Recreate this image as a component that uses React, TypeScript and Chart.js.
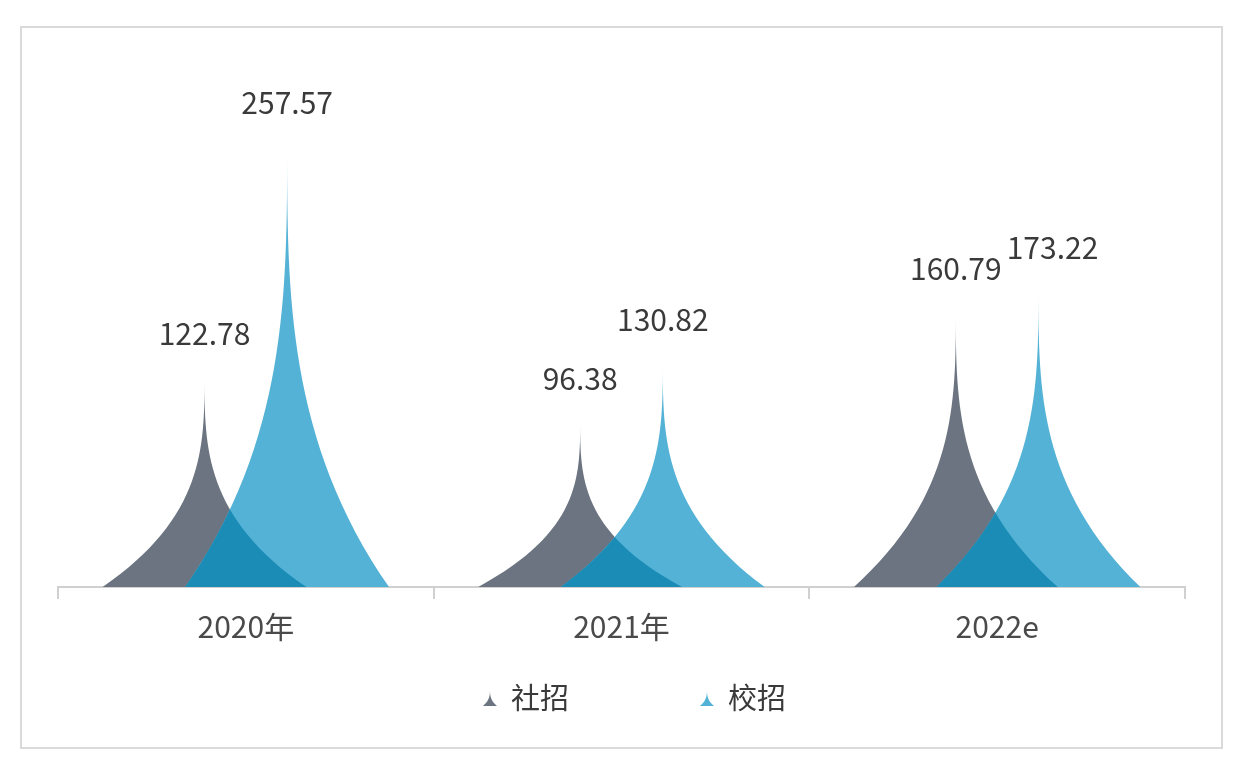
import React, { useEffect, useRef } from "react";
import { Chart, registerables } from "chart.js";

Chart.register(...registerables);

const categories = ["2020年", "2021年", "2022e"];
const socialHires = [122.78, 96.38, 160.79];
const campusHires = [257.57, 130.82, 173.22];
const seriesNames = ["社招", "校招"];

const GRAY = "rgb(107,116,128)";
const BLUE = "rgb(84,178,214)";
const OVERLAP = "rgb(26,140,182)";
const FONT = '"Noto Sans CJK SC", "Noto Sans", sans-serif';

function spikePath(ctx: CanvasRenderingContext2D, cx: number, top: number, base: number, hw: number) {
  const h = base - top;
  ctx.beginPath();
  ctx.moveTo(cx - hw, base);
  ctx.bezierCurveTo(cx, base - h / 3, cx, base - (2 * h) / 3, cx, top);
  ctx.bezierCurveTo(cx, base - (2 * h) / 3, cx, base - h / 3, cx + hw, base);
  ctx.closePath();
}

function barGeom(bar: any) {
  const p = bar.getProps(["x", "y", "base", "width"], true);
  return { x: p.x, y: p.y, base: p.base, hw: p.width * 1.233 };
}

const spikePlugin = {
  id: "spikes",
  afterDatasetsDraw(chart: any) {
    const ctx = chart.ctx as CanvasRenderingContext2D;
    ctx.save();
    const metas = chart.data.datasets.map((_: any, di: number) => chart.getDatasetMeta(di));
    metas.forEach((meta: any, di: number) => {
      ctx.fillStyle = chart.data.datasets[di].spikeColor;
      meta.data.forEach((bar: any) => {
        const g = barGeom(bar);
        spikePath(ctx, g.x, g.y, g.base, g.hw);
        ctx.fill();
      });
    });
    // overlap of 校招 over 社招
    metas[0].data.forEach((grayBar: any) => {
      const g = barGeom(grayBar);
      ctx.save();
      spikePath(ctx, g.x, g.y, g.base, g.hw);
      ctx.clip();
      ctx.fillStyle = OVERLAP;
      metas[1].data.forEach((blueBar: any) => {
        const b = barGeom(blueBar);
        spikePath(ctx, b.x, b.y, b.base, b.hw);
        ctx.fill();
      });
      ctx.restore();
    });
    // data labels (with simple collision nudge)
    ctx.fillStyle = "#3a3a3a";
    ctx.font = `30px ${FONT}`;
    ctx.textAlign = "center";
    ctx.textBaseline = "middle";
    const boxes: { l: number; r: number; t: number; b: number }[] = [];
    metas.forEach((meta: any, di: number) => {
      const ds = chart.data.datasets[di];
      meta.data.forEach((bar: any, i: number) => {
        const p = bar.getProps(["x", "y"], true);
        const text = ds.data[i].toFixed(2);
        const w = ctx.measureText(text).width;
        let x = p.x;
        const y = p.y - 43;
        const hit = boxes.some(
          (bx) => x - w / 2 < bx.r && x + w / 2 > bx.l && y - 14 < bx.b && y + 14 > bx.t
        );
        if (hit) x += 14;
        boxes.push({ l: x - w / 2, r: x + w / 2, t: y - 14, b: y + 14 });
        ctx.fillText(text, x, y);
      });
    });
    ctx.restore();
  },
  afterDraw(chart: any) {
    const ctx = chart.ctx as CanvasRenderingContext2D;
    ctx.save();
    ctx.font = `29px ${FONT}`;
    ctx.textBaseline = "middle";
    ctx.textAlign = "left";
    const y = 698;
    const markerW = 14;
    const gapText = 14;
    const gapItems = 131;
    const colors = [GRAY, BLUE];
    const widths = seriesNames.map((n) => markerW + gapText + ctx.measureText(n).width);
    const total = widths[0] + gapItems + widths[1];
    const cx = (chart.chartArea.left + chart.chartArea.right) / 2 + 13;
    let x = cx - total / 2;
    seriesNames.forEach((n, i) => {
      ctx.fillStyle = colors[i];
      spikePath(ctx, x + markerW / 2, y - 9, y + 8, markerW / 2);
      ctx.fill();
      ctx.fillStyle = "#3a3a3a";
      ctx.fillText(n, x + markerW + gapText, y);
      x += widths[i] + gapItems;
    });
    ctx.restore();
  },
};

export default function App() {
  const ref = useRef<HTMLCanvasElement | null>(null);

  useEffect(() => {
    if (!ref.current) return;
    const chart = new Chart(ref.current, {
      type: "bar",
      data: {
        labels: categories,
        datasets: [
          {
            label: seriesNames[0],
            data: socialHires,
            backgroundColor: "transparent",
            borderWidth: 0,
            spikeColor: GRAY,
          } as any,
          {
            label: seriesNames[1],
            data: campusHires,
            backgroundColor: "transparent",
            borderWidth: 0,
            spikeColor: BLUE,
          } as any,
        ],
      },
      options: {
        responsive: false,
        animation: false,
        events: [],
        devicePixelRatio: 1,
        datasets: { bar: { categoryPercentage: 0.44, barPercentage: 1 } },
        layout: { padding: { left: 58, right: 59, top: 73, bottom: 113 } },
        plugins: { legend: { display: false }, tooltip: { enabled: false } },
        scales: {
          x: {
            offset: true,
            grid: {
              display: true,
              offset: true,
              drawOnChartArea: false,
              drawTicks: true,
              tickLength: 12,
              color: "#d0d0d0",
              lineWidth: 2,
            },
            border: { display: true, color: "#d0d0d0", width: 2 },
            ticks: { color: "#4a4a4a", font: { family: FONT, size: 30 }, padding: 10 },
          },
          y: { display: false, min: 0, max: 300 },
        },
      },
      plugins: [spikePlugin],
    });
    return () => chart.destroy();
  }, []);

  return (
    <div style={{ position: "fixed", left: 0, top: 0, width: 1244, height: 768, background: "#fff" }}>
      <div
        style={{
          position: "absolute",
          left: 20,
          top: 26,
          width: 1199,
          height: 719,
          border: "2px solid #dadada",
        }}
      />
      <canvas
        ref={ref}
        width={1244}
        height={768}
        style={{ position: "absolute", left: 0, top: 0, width: 1244, height: 768 }}
      />
    </div>
  );
}
